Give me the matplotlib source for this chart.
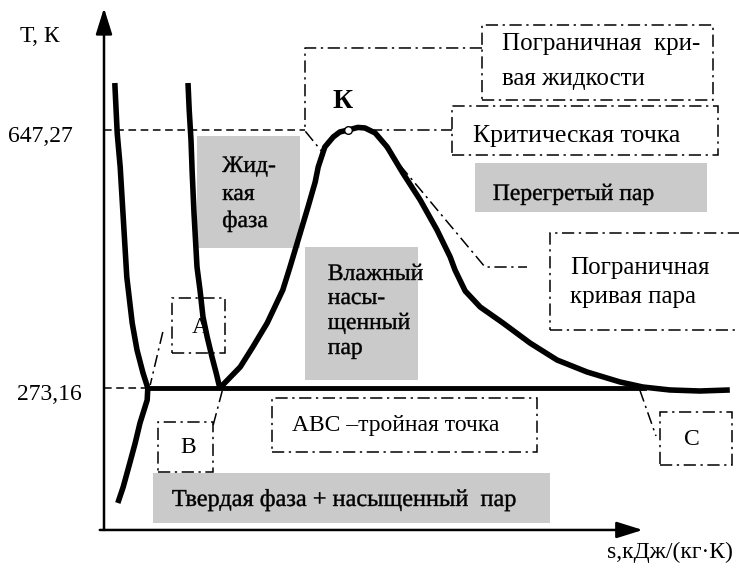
import matplotlib
matplotlib.use('Agg')
import matplotlib.pyplot as plt
import matplotlib.patches as mpatches
import matplotlib.patheffects as pe

plt.rcParams['font.family'] = ['Liberation Serif', 'DejaVu Serif']

# характерные температуры, К
T_TRIPLE = 273.16
T_CRIT = 647.27
tick_T = [T_TRIPLE, T_CRIT]
tick_labels = ['273,16', '647,27']

# линия плавления (левая кривая), s в условных единицах
melt_s = [0.18, 0.22, 0.27, 0.32, 0.38, 0.47, 0.55, 0.65, 0.73, 0.72, 0.60, 0.52, 0.43, 0.32, 0.23]
melt_T = [715.4, 642.9, 593.6, 521.1, 434.1, 367.4, 328.3, 294.9, 273.16, 255.8, 222.4, 193.4, 164.4, 129.6, 106.4]

# граница жидкой фазы
liq_s = [1.40, 1.42, 1.45, 1.47, 1.50, 1.55, 1.60, 1.65, 1.72, 1.80, 1.87, 1.93]
liq_T = [715.4, 676.3, 632.8, 584.9, 526.9, 448.6, 415.3, 376.1, 347.1, 318.1, 294.9, 273.16]

# пограничные кривые жидкости и пара (купол)
dome_s = [1.93, 2.27, 2.48, 2.72, 2.98, 3.10, 3.27, 3.40, 3.52, 3.57, 3.68, 3.82, 3.93, 4.07,
          4.23, 4.35, 4.52, 4.72, 4.98, 5.27, 5.55, 5.77, 5.85, 6.02, 6.27, 6.65, 7.10, 7.55, 8.05,
          8.60, 8.98, 9.43, 9.93, 10.43]
dome_T = [273.16, 303.6, 332.6, 367.4, 415.3, 448.6, 497.9, 535.6, 571.9, 593.6, 622.6, 637.1, 644.4, 647.27,
          651.0, 650.2, 642.9, 622.6, 584.9, 545.8, 502.3, 463.1, 444.3, 413.8, 390.6, 367.4, 338.4, 313.8, 296.4,
          281.9, 274.6, 270.3, 268.8, 270.3]

# тройная линия ABC
triple_s = [0.73, 9.0]

crit_s = 4.07

K = (T_CRIT - T_TRIPLE) / 258  # K per pixel of original drawing

fig = plt.figure(figsize=(7.39, 5.68), dpi=100)
ax = fig.add_axes([0, 0, 1, 1])
ax.set_xlim(-104 / 60, 635 / 60)
ax.set_ylim(T_TRIPLE - 180 * K, T_TRIPLE + 388 * K)
ax.axis('off')

GRAY = '#cacaca'
DASHDOT = (0, (8, 3, 1.5, 3))
heavy = [pe.PathPatchEffect(edgecolor='black', facecolor='black', linewidth=0.3)]

# серые области
for s0, T0, s1, T1 in [(6.18, 528.4, 10.05, 599.4),
                       (1.55, 476.2, 3.27, 638.6),
                       (3.35, 284.8, 5.23, 477.6),
                       (0.82, 77.4, 7.43, 149.9)]:
    ax.add_patch(mpatches.Rectangle((s0, T0), s1 - s0, T1 - T0, facecolor=GRAY,
                                    edgecolor='none', zorder=1))

# рамки подписей
for s0, T0, s1, T1 in [(6.30, 690.8, 10.15, 799.5),
                       (5.80, 611.0, 10.23, 682.1),
                       (7.43, 357.3, 10.68, 497.9),
                       (1.13, 323.9, 2.02, 403.7),
                       (0.90, 151.4, 1.82, 223.9),
                       (2.80, 180.4, 7.22, 258.7),
                       (9.27, 161.5, 10.47, 238.4)]:
    ax.add_patch(mpatches.Rectangle((s0, T0), s1 - s0, T1 - T0, fill=False,
                                    edgecolor='black', lw=1.1, linestyle=DASHDOT, zorder=2))

# выноски
leaders = [([6.30, 3.35, 3.35, 3.65], [766.2, 766.2, 646.0, 614.0]),
           ([4.43, 5.80], [T_CRIT, T_CRIT]),
           ([4.68, 6.35, 7.05], [622.6, 448.6, 448.6]),
           ([0.98, 0.77], [354.4, 277.5]),
           ([1.82, 1.97], [219.5, 268.8]),
           ([8.93, 9.20], [270.3, 203.6])]
for xs, ys in leaders:
    ax.plot(xs, ys, color='black', lw=1.1, linestyle=DASHDOT, zorder=2)

# пунктир к осям
ax.plot([0, 3.35], [T_CRIT, T_CRIT], color='black', lw=1.1, linestyle=(0, (5, 3)), zorder=2)
ax.plot([0, 0.72], [T_TRIPLE, T_TRIPLE], color='black', lw=1.1, linestyle=(0, (5, 3)), zorder=2)

# кривые
curve = dict(color='black', lw=4, solid_capstyle='butt', solid_joinstyle='round', zorder=4)
ax.plot(melt_s, melt_T, **curve)
ax.plot(liq_s, liq_T, **curve)
ax.plot(dome_s, dome_T, **curve)
ax.plot(triple_s, [T_TRIPLE, T_TRIPLE], color='black', lw=3.5, zorder=4)
ax.plot([crit_s], [T_CRIT], marker='o', markersize=5.5, markerfacecolor='white',
        markeredgecolor='black', markeredgewidth=1, zorder=5)

# оси со стрелками
arrow = dict(arrowstyle='-|>,head_length=0.8,head_width=0.25', lw=1.8, color='black',
             mutation_scale=20, shrinkA=0, shrinkB=0)
ax.annotate('', xy=(0, 824.2), xytext=(0, 67.3), arrowprops=arrow, zorder=3)
ax.annotate('', xy=(8.98, 67.3), xytext=(-0.07, 67.3), arrowprops=arrow, zorder=3)

# подписи осей
ax.text(-1.40, 774.9, 'Т, К', fontsize=17, ha='left', va='baseline')
for T, lab in zip(tick_T, tick_labels):
    ax.text(-1.60 if T == T_CRIT else -1.45, T - 9, lab, fontsize=17, ha='left', va='center')
ax.text(8.38, 26.7, 's,кДж/(кг·К)', fontsize=17, ha='left', va='baseline')

# подписи в рамках
ax.text(6.63, 763.3, 'Пограничная  кри-', fontsize=18, ha='left', va='baseline')
ax.text(6.63, 712.4, 'вая жидкости', fontsize=18, ha='left', va='baseline')
ax.text(6.15, 629.9, 'Критическая точка', fontsize=18.5, ha='left', va='baseline')
ax.text(7.77, 438.5, 'Пограничная', fontsize=18, ha='left', va='baseline')
ax.text(7.77, 396.4, 'кривая пара', fontsize=18, ha='left', va='baseline')
ax.text(1.60, 361.6, 'А', fontsize=17, ha='center', va='center')
ax.text(1.40, 186.2, 'В', fontsize=17, ha='center', va='center')
ax.text(9.80, 199.2, 'С', fontsize=17, ha='center', va='center')
ax.text(3.13, 210.8, 'АВС –тройная точка', fontsize=17, ha='left', va='baseline')
ax.text(3.97, 687.9, 'К', fontsize=20, fontweight='bold', ha='center', va='center')

# подписи в серых областях
ax.text(6.48, 545.8, 'Перегретый пар', fontsize=17, ha='left', va='baseline', path_effects=heavy, zorder=3)
for txt, T in zip(['Жид-', 'кая', 'фаза'], [586.4, 545.8, 506.6]):
    ax.text(1.97, T, txt, fontsize=17, ha='left', va='baseline', path_effects=heavy, zorder=3)
for txt, T in zip(['Влажный', 'насы-', 'щенный', 'пар'], [429.8, 395.0, 358.7, 322.5]):
    ax.text(3.73, T, txt, fontsize=17, ha='left', va='baseline', path_effects=heavy, zorder=3)
ax.text(1.13, 102.1, 'Твердая фаза + насыщенный  пар', fontsize=17.5, ha='left', va='baseline',
        path_effects=heavy, zorder=3)

fig.savefig('out.png', dpi=100)
